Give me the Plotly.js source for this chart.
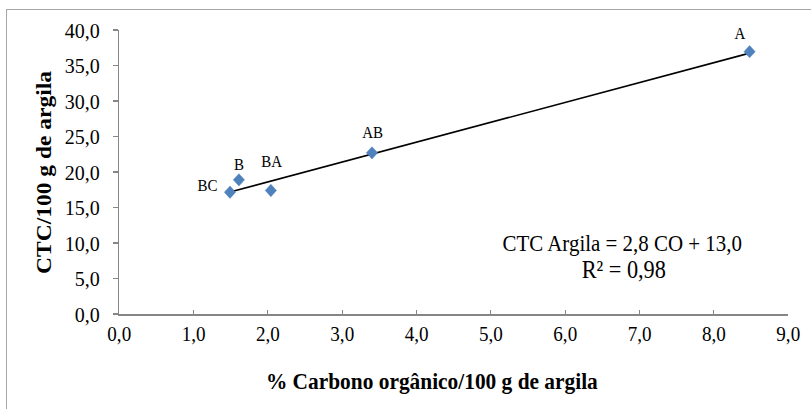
<!DOCTYPE html>
<html>
<head>
<meta charset="utf-8">
<script src="https://cdn.plot.ly/plotly-3.0.1.min.js"></script>
<style>
  html, body { margin: 0; padding: 0; background: #ffffff; }
  #wrap { position: relative; width: 811px; height: 409px; overflow: hidden; }
  /* the figure is laid out wider and compressed horizontally to the page width */
  #chart { position: absolute; left: 0; top: 0; width: 891px; height: 409px;
           transform: scaleX(0.9102); transform-origin: 0 0; }
  #frame { position: absolute; left: 6px; top: 9px; width: 840px; height: 440px;
           border: 1px solid #a6a6a6; box-sizing: border-box; pointer-events: none; }
</style>
</head>
<body>
<div id="wrap">
  <div id="chart"></div>
  <div id="frame"></div>
</div>
<script>
// Soil horizons and their values
const horizons = ['BC', 'B', 'BA', 'AB', 'A'];
const carbonoOrganico = [1.49, 1.61, 2.04, 3.40, 8.48];   // % C orgânico / 100 g de argila
const ctcArgila = [17.15, 18.9, 17.4, 22.7, 36.95];       // CTC / 100 g de argila

// Linear fit reported on the chart
const trendSlope = 2.8;
const trendIntercept = 13.0;
const rSquared = 0.98;

// Label offsets (px) relative to each point
const labelDx = [-25, 0, 1, 1, -11];
const labelDy = [7, 15, 29, 20, 18];

const xTicks = [0, 1, 2, 3, 4, 5, 6, 7, 8, 9];
const yTicks = [0, 5, 10, 15, 20, 25, 30, 35, 40];

const serif = 'Times New Roman, Liberation Serif, serif';
const fmt = v => v.toFixed(1).replace('.', ',');

const xMin = Math.min(...carbonoOrganico);
const xMax = Math.max(...carbonoOrganico);
const trendX = [xMin, xMax];
const trendY = trendX.map(x => trendSlope * x + trendIntercept);

const traces = [
  {
    x: trendX, y: trendY, type: 'scatter', mode: 'lines',
    line: { color: '#000000', width: 1.6 },
    hoverinfo: 'skip', showlegend: false
  },
  {
    x: carbonoOrganico, y: ctcArgila, type: 'scatter', mode: 'markers',
    marker: { symbol: 'diamond', size: 9.5, color: '#4f81bd',
              line: { color: '#4a7ebb', width: 0.5 } },
    text: horizons, showlegend: false
  }
];

const annotations = horizons.map((h, i) => ({
  x: carbonoOrganico[i], y: ctcArgila[i], xref: 'x', yref: 'y',
  text: h, showarrow: false,
  xshift: labelDx[i], yshift: labelDy[i],
  font: { family: serif, size: 16.5, color: '#000000' }
}));

// Fit equation and R²
annotations.push({
  xref: 'paper', yref: 'paper', x: 0.752, y: (313.5 - 243) / 284,
  xanchor: 'center', yanchor: 'middle', showarrow: false,
  text: 'CTC Argila = ' + fmt(trendSlope) + ' CO + ' + fmt(trendIntercept),
  font: { family: serif, size: 23, color: '#000000' }
});
annotations.push({
  xref: 'paper', yref: 'paper', x: 0.754, y: (313.5 - 269) / 284,
  xanchor: 'center', yanchor: 'middle', showarrow: false,
  text: 'R² = ' + rSquared.toFixed(2).replace('.', ','),
  font: { family: serif, size: 24.5, color: '#000000' }
});

// Axis titles
const titleFont = { family: serif, size: 23.5, color: '#000000' };
annotations.push({
  xref: 'paper', yref: 'paper', x: (432 - 119) / (788 - 119), y: -(380 - 313.5) / 284,
  xanchor: 'center', yanchor: 'middle', showarrow: false,
  text: '<b>% Carbono orgânico/100 g de argila</b>',
  font: titleFont
});
annotations.push({
  xref: 'paper', yref: 'paper', x: -(119 - 43) / (788 - 119), y: (313.5 - 172) / 284,
  xanchor: 'center', yanchor: 'middle', showarrow: false, textangle: -90,
  text: '<b>CTC/100 g de argila</b>',
  font: titleFont
});

const layout = {
  width: 891, height: 409,
  margin: { l: 131, r: 25, t: 30, b: 95, pad: 0 },
  paper_bgcolor: '#ffffff', plot_bgcolor: '#ffffff',
  font: { family: serif, size: 22, color: '#000000' },
  showlegend: false,
  xaxis: {
    range: [0, 9], tickvals: xTicks, ticktext: xTicks.map(fmt),
    showgrid: false, zeroline: false,
    showline: true, linecolor: '#868686', linewidth: 1.6,
    ticks: 'inside', ticklen: 4, tickcolor: '#868686', tickwidth: 1.2,
    ticklabelstandoff: 0,
    tickfont: { family: serif, size: 21, color: '#000000' },
    fixedrange: true
  },
  yaxis: {
    range: [0, 40], tickvals: yTicks, ticktext: yTicks.map(fmt),
    showgrid: false, zeroline: false,
    showline: true, linecolor: '#868686', linewidth: 1.6,
    ticks: 'outside', ticklen: 5.5, tickcolor: '#868686', tickwidth: 1.2,
    ticklabelstandoff: 10,
    tickfont: { family: serif, size: 22, color: '#000000' },
    fixedrange: true
  },
  annotations: annotations
};

Plotly.newPlot('chart', traces, layout, { displayModeBar: false, staticPlot: true });
</script>
</body>
</html>
